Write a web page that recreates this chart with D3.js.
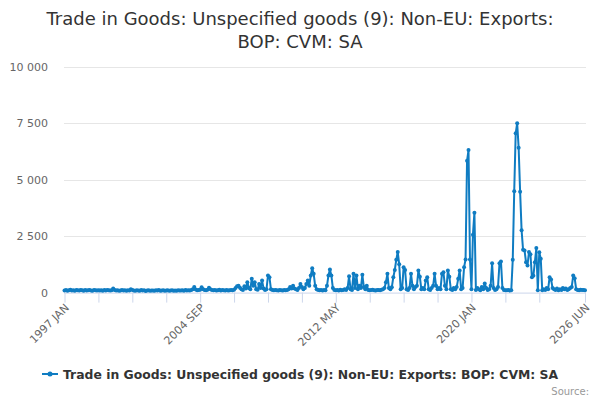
<!DOCTYPE html>
<html>
<head>
<meta charset="utf-8">
<script src="https://cdn.jsdelivr.net/npm/d3@7"></script>
<style>
  body { margin: 0; background: #fff; }
  svg { font-family: "DejaVu Sans", sans-serif; }
</style>
</head>
<body>
<div id="chart"></div>
<script>
const titleLines = ['Trade in Goods: Unspecified goods (9): Non-EU: Exports:', 'BOP: CVM: SA'];
const seriesName = 'Trade in Goods: Unspecified goods (9): Non-EU: Exports: BOP: CVM: SA';
const startYear = 1997;
const monthNames = ['JAN', 'FEB', 'MAR', 'APR', 'MAY', 'JUN', 'JUL', 'AUG', 'SEP', 'OCT', 'NOV', 'DEC'];

// monthly values, one row per year, 1997 JAN .. 2026 JUN
const values = [
  90, 110, 80, 100, 130, 95, 105, 85, 120, 100, 90, 110,
  100, 85, 115, 95, 105, 120, 90, 80, 110, 100, 95, 105,
  90, 100, 85, 110, 95, 120, 100, 90, 105, 180, 110, 95,
  100, 85, 95, 110, 90, 105, 80, 100, 95, 150, 110, 90,
  85, 100, 95, 80, 110, 90, 100, 75, 95, 105, 85, 90,
  95, 80, 100, 90, 110, 85, 95, 100, 80, 90, 105, 85,
  90, 100, 85, 95, 80, 105, 90, 95, 100, 85, 110, 95,
  100, 90, 120, 150, 250, 140, 100, 110, 130, 240, 150, 110,
  100, 130, 220, 150, 110, 100, 120, 90, 100, 130, 95, 110,
  100, 90, 110, 95, 100, 120, 105, 130, 200, 280, 300, 220,
  150, 120, 280, 180, 460, 200, 150, 608, 300, 460, 150, 130,
  386, 200, 533, 180, 120, 150, 756, 680, 150, 110, 100, 120,
  100, 90, 110, 100, 95, 120, 100, 110, 150, 250, 180, 300,
  180, 150, 120, 200, 386, 250, 150, 200, 386, 533, 300, 756,
  1080, 830, 300, 150, 120, 100, 110, 90, 120, 100, 300, 756,
  1022, 756, 200, 120, 100, 110, 95, 130, 100, 120, 150, 110,
  200, 725, 150, 120, 830, 200, 756, 150, 300, 200, 785, 250,
  150, 300, 120, 100, 110, 130, 100, 90, 120, 110, 100, 130,
  150, 200, 460, 830, 200, 150, 240, 680, 1000, 1450, 1800, 1250,
  150, 200, 1125, 1000, 150, 120, 200, 830, 300, 150, 250, 300,
  978, 700, 150, 200, 150, 533, 680, 150, 120, 200, 300, 830,
  300, 150, 200, 150, 830, 900, 300, 150, 978, 700, 150, 120,
  200, 150, 250, 608, 978, 150, 200, 1125, 1467, 5836, 6311, 1467,
  150, 2564, 3540, 120, 200, 150, 100, 250, 150, 400, 200, 120,
  150, 300, 1300, 200, 120, 150, 250, 1300, 1380, 200, 120, 100,
  100, 120, 90, 100, 1452, 4489, 7052, 7496, 6415, 4459, 2756, 1896,
  1867, 1348, 1200, 1793, 1700, 680, 750, 1348, 1970, 100, 1790, 1496,
  100, 150, 120, 200, 150, 680, 580, 200, 150, 120, 180, 100,
  150, 120, 200, 150, 180, 120, 150, 200, 250, 756, 640, 150,
  120, 100, 130, 110, 120, 100
];

const yTicks = [0, 2500, 5000, 7500, 10000];
const xTickIdx = [0, 23, 46, 69, 92, 115, 138, 161, 184, 207, 230, 253, 276, 299, 322, 353];
const xLabelIdx = [0, 92, 184, 276, 353];

const width = 600;
const height = 400;
const color = '#0f7cc2';

const monthLabel = (i) => (startYear + Math.floor(i / 12)) + ' ' + monthNames[i % 12];

const svg = d3.select('#chart')
  .append('svg')
  .attr('width', width)
  .attr('height', height);

svg.append('rect').attr('width', width).attr('height', height).attr('fill', '#fff');

// title
svg.append('g')
  .selectAll('text')
  .data(titleLines)
  .join('text')
  .attr('x', 300)
  .attr('y', (d, i) => 25 + i * 23)
  .attr('text-anchor', 'middle')
  .attr('font-size', 18)
  .attr('fill', '#333')
  .text(d => d);

const x = d3.scaleLinear().domain([0, values.length - 1]).range([64.5, 585]);
const y = d3.scaleLinear().domain([0, 10000]).range([292.6, 66.7]);

// gridlines
svg.append('g')
  .selectAll('line')
  .data(yTicks.filter(d => d > 0))
  .join('line')
  .attr('x1', 64)
  .attr('x2', 586)
  .attr('y1', d => Math.round(y(d)) + 0.5)
  .attr('y2', d => Math.round(y(d)) + 0.5)
  .attr('stroke', '#e6e6e6');

// y labels
svg.append('g')
  .selectAll('text')
  .data(yTicks)
  .join('text')
  .attr('x', 48)
  .attr('y', d => y(d) + 4)
  .attr('text-anchor', 'end')
  .attr('font-size', 11)
  .attr('fill', '#666')
  .text(d => d3.format(',')(d).replace(/,/g, ' '));

// x axis
const xAxis = d3.axisBottom(x)
  .tickValues(xTickIdx)
  .tickSize(10)
  .tickSizeOuter(0)
  .tickFormat(i => xLabelIdx.includes(i) ? monthLabel(i) : '');

const gx = svg.append('g')
  .attr('transform', `translate(0, ${y(0)})`)
  .call(xAxis);

gx.select('.domain').attr('stroke', '#ccd6eb').attr('d', `M64,0.5H586`);
gx.selectAll('.tick line').attr('stroke', '#ccd6eb');
gx.selectAll('.tick text')
  .attr('font-size', 11)
  .attr('font-family', '"DejaVu Sans", sans-serif')
  .attr('fill', '#666')
  .attr('text-anchor', 'end')
  .attr('transform', 'translate(2, 13) rotate(-45)')
  .attr('x', 0)
  .attr('y', 0)
  .attr('dy', '0.35em');

// series
const line = d3.line()
  .x((d, i) => x(i))
  .y(d => y(d));

svg.append('path')
  .datum(values)
  .attr('fill', 'none')
  .attr('stroke', color)
  .attr('stroke-width', 2)
  .attr('stroke-linejoin', 'round')
  .attr('d', line);

svg.append('g')
  .selectAll('circle')
  .data(values)
  .join('circle')
  .attr('cx', (d, i) => x(i))
  .attr('cy', d => y(d))
  .attr('r', 2)
  .attr('fill', color);

// legend
const legend = svg.append('g').attr('transform', 'translate(42, 374)');
legend.append('line')
  .attr('x1', 0).attr('x2', 16)
  .attr('y1', 0).attr('y2', 0)
  .attr('stroke', color)
  .attr('stroke-width', 2);
legend.append('circle')
  .attr('cx', 8).attr('cy', 0).attr('r', 2.5)
  .attr('fill', color);
legend.append('text')
  .attr('x', 21)
  .attr('y', 4.5)
  .attr('font-size', 12.4)
  .attr('font-weight', 'bold')
  .attr('fill', '#333')
  .text(seriesName);

// credits
svg.append('text')
  .attr('x', 589)
  .attr('y', 395)
  .attr('text-anchor', 'end')
  .attr('font-size', 10)
  .attr('fill', '#999')
  .text('Source:');
</script>
</body>
</html>
